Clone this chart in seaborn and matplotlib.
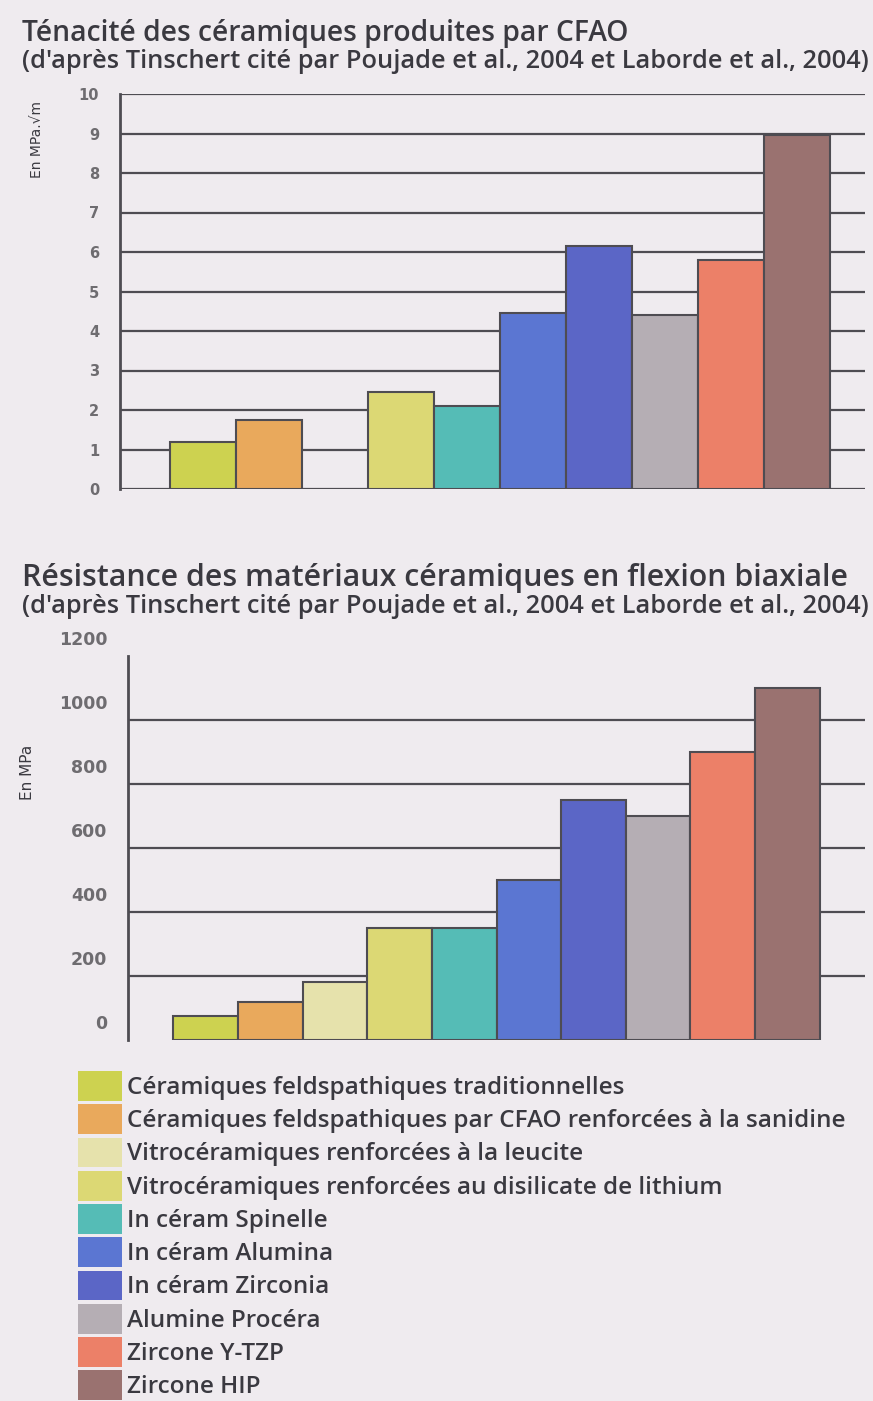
import numpy as np
import pandas as pd
import matplotlib
matplotlib.use("Agg")
import matplotlib.pyplot as plt
import matplotlib.transforms as mtransforms
from matplotlib.patches import Patch
import seaborn as sns

# data
materials = [
    "Céramiques feldspathiques traditionnelles",
    "Céramiques feldspathiques par CFAO renforcées à la sanidine",
    "Vitrocéramiques renforcées à la leucite",
    "Vitrocéramiques renforcées au disilicate de lithium",
    "In céram Spinelle",
    "In céram Alumina",
    "In céram Zirconia",
    "Alumine Procéra",
    "Zircone Y-TZP",
    "Zircone HIP",
]
colors = ["#cdd250", "#e9a95c", "#e6e2ac", "#dcd874", "#55bcb6",
          "#5b76d2", "#5b66c6", "#b5aeb4", "#ec8068", "#9a7270"]
tenacite = [1.2, 1.75, np.nan, 2.45, 2.1, 4.45, 6.15, 4.4, 5.8, 8.95]   # MPa.sqrt(m)
flexion = [75, 120, 180, 350, 350, 500, 750, 700, 900, 1100]           # MPa

top_ticks = list(range(0, 11))
bottom_ticks = [0, 200, 400, 600, 800, 1000, 1200]
bottom_grid = [200, 400, 600, 800, 1000]

bg = "#efebef"
line_col = "#4e4c52"
text_col = "#3a3940"
tick_col = "#6e6c70"

sns.set_style("white")
plt.rcParams["font.family"] = ["Open Sans", "DejaVu Sans"]

palette = dict(zip(materials, colors))
df = pd.DataFrame({"materiau": materials, "tenacite": tenacite, "flexion": flexion})

fig = plt.figure(figsize=(8.73, 14.01), dpi=100, facecolor=bg)
W, H = 873, 1401


def ax_at(x0, y0, x1, y1):
    # pixel box (top-left origin) -> figure axes
    return fig.add_axes([x0 / W, (H - y1) / H, (x1 - x0) / W, (y1 - y0) / H])


def style_axis(ax, tick_fs):
    ax.set_facecolor(bg)
    for s in ["top", "right", "bottom"]:
        ax.spines[s].set_visible(False)
    ax.spines["left"].set_color(line_col)
    ax.spines["left"].set_linewidth(2)
    ax.set_xticks([])
    ax.set_xlabel("")
    ax.tick_params(axis="y", length=8, width=1.6, color=line_col, pad=7,
                   labelsize=tick_fs, labelcolor=tick_col)
    for lab in ax.get_yticklabels():
        lab.set_fontfamily(["DejaVu Sans"])
        lab.set_fontweight("bold")


# ---- top chart: ténacité
ax1 = ax_at(120, 94, 865, 489)
sns.barplot(data=df, x="materiau", y="tenacite", hue="materiau", order=materials,
            palette=palette, saturation=1, width=1.0, edgecolor=line_col,
            linewidth=1.5, legend=False, ax=ax1, zorder=3)
for v in top_ticks:
    ax1.axhline(v, color=line_col, lw=1.6, zorder=1)
ax1.set_xlim(-1.26, 10.03)
ax1.set_ylim(0, 10)
ax1.set_yticks(top_ticks)
ax1.set_ylabel("")
style_axis(ax1, 10.5)
fig.text(37 / W, (H - 139) / H, "En MPa.√m", rotation=90, ha="center", va="center",
         fontsize=10, color=text_col, family=["DejaVu Sans"])

# ---- bottom chart: flexion biaxiale
ax2 = ax_at(128, 656, 865, 1040)
sns.barplot(data=df, x="materiau", y="flexion", hue="materiau", order=materials,
            palette=palette, saturation=1, width=1.0, edgecolor=line_col,
            linewidth=1.5, legend=False, ax=ax2, zorder=3)
for v in bottom_grid:
    ax2.axhline(v, color=line_col, lw=1.6, zorder=1)
ax2.set_xlim(-1.2, 10.2)
ax2.set_ylim(0, 1200)
ax2.set_yticks(bottom_ticks)
ax2.set_ylabel("")
style_axis(ax2, 12.5)
# the printed labels sit a little above their tick marks
shift = mtransforms.ScaledTranslation(0, 0.18, fig.dpi_scale_trans)
for lab in ax2.get_yticklabels():
    lab.set_transform(lab.get_transform() + shift)
fig.text(28 / W, (H - 772) / H, "En MPa", rotation=90, ha="center", va="center",
         fontsize=11, color=text_col, family=["DejaVu Sans"])

# ---- titles
renderer = fig.canvas.get_renderer()


def fit_text(x, y, s, width_px, fs, weight):
    t = fig.text(x / W, (H - y) / H, s, ha="left", va="center", fontsize=fs,
                 fontweight=weight, color=text_col)
    w = t.get_window_extent(renderer).width
    t.set_fontsize(fs * width_px / w)
    return t


src = "(d'après Tinschert cité par Poujade et al., 2004 et Laborde et al., 2004)"
fit_text(22, 33, "Ténacité des céramiques produites par CFAO", 608, 16, "semibold")
fit_text(22, 62, src, 848, 12, "semibold")
fit_text(22, 578, "Résistance des matériaux céramiques en flexion biaxiale", 828, 16, "semibold")
fit_text(22, 606, src, 848, 12, "semibold")

# ---- legend
leg_fs = 17.5
handles = [Patch(facecolor=c, edgecolor="none", label=m) for m, c in zip(materials, colors)]
leg = fig.legend(handles=handles, loc="upper left", bbox_to_anchor=(78 / W, (H - 1071) / H),
                 frameon=False, fontsize=leg_fs, handlelength=1.81, handleheight=1.52,
                 handletextpad=0.22, labelspacing=0.135, borderpad=0, borderaxespad=0)
for t in leg.get_texts():
    t.set_color(text_col)
    t.set_fontweight("semibold")

fig.savefig("out.png", dpi=100, facecolor=bg)
